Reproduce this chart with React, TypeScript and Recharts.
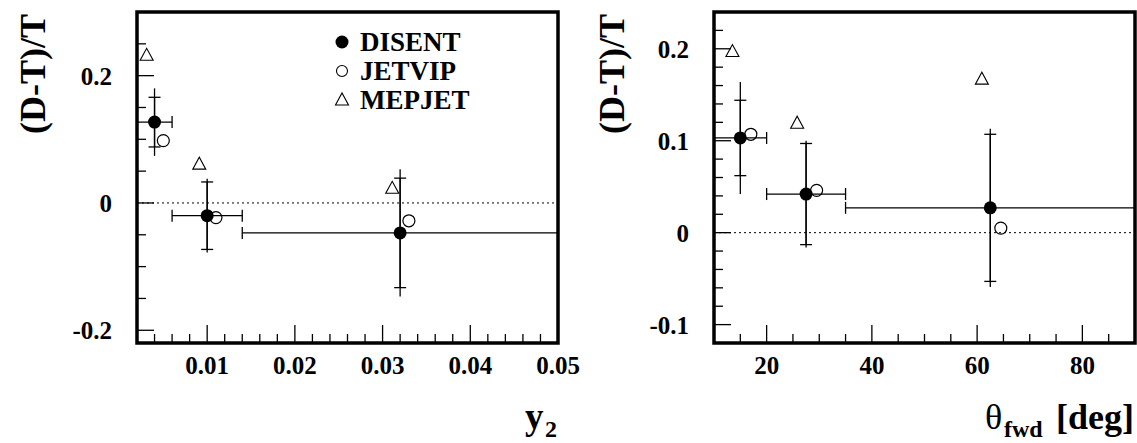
import React from 'react'
import {
  ScatterChart,
  Scatter,
  XAxis,
  YAxis,
  ErrorBar,
  ReferenceLine,
  ReferenceArea,
  Legend,
} from 'recharts'

const SERIF = '"Liberation Serif", "Times New Roman", Times, serif'

// ---- (D-T)/T vs y2 ----
const y2Centers = [0.004, 0.01, 0.032]
const y2HalfBins = [0.002, 0.004, 0.018]
const y2Disent = [0.127, -0.02, -0.047]
const y2DisentStat = [0.039, 0.053, 0.086]
const y2DisentTotal = [0.053, 0.058, 0.1]
const y2JetvipX = [0.005, 0.011, 0.033]
const y2Jetvip = [0.098, -0.023, -0.028]
const y2MepjetX = [0.0031, 0.0091, 0.0311]
const y2Mepjet = [0.232, 0.061, 0.023]
const y2XTicks = [
  0.004, 0.006, 0.008, 0.01, 0.012, 0.014, 0.016, 0.018, 0.02, 0.022, 0.024, 0.026,
  0.028, 0.03, 0.032, 0.034, 0.036, 0.038, 0.04, 0.042, 0.044, 0.046, 0.048, 0.05,
]
const y2XLabels = [0.01, 0.02, 0.03, 0.04, 0.05]
const y2YTicks = [-0.2, -0.15, -0.1, -0.05, 0, 0.05, 0.1, 0.15, 0.2, 0.25]
const y2YLabels = [-0.2, 0, 0.2]

// ---- (D-T)/T vs theta_fwd ----
const thCenters = [15, 27.5, 62.5]
const thHalfBins = [5, 7.5, 27.5]
const thDisent = [0.103, 0.042, 0.027]
const thDisentStat = [0.041, 0.055, 0.08]
const thDisentTotal = [0.061, 0.058, 0.086]
const thJetvipX = [17, 29.5, 64.5]
const thJetvip = [0.107, 0.046, 0.005]
const thMepjetX = [13.5, 25.8, 60.9]
const thMepjet = [0.197, 0.119, 0.167]
const thXTicks = [15, 20, 25, 30, 35, 40, 45, 50, 55, 60, 65, 70, 75, 80, 85]
const thXLabels = [20, 40, 60, 80]
const thYTicks = [-0.1, -0.08, -0.06, -0.04, -0.02, 0, 0.02, 0.04, 0.06, 0.08, 0.1, 0.12, 0.14, 0.16, 0.18, 0.2, 0.22]
const thYLabels = [-0.1, 0, 0.1, 0.2]

const seriesNames = ['DISENT', 'JETVIP', 'MEPJET']

const withErrors = (xs: number[], ys: number[], ex: number[], stat: number[], total: number[]) =>
  xs.map((x, i) => ({ x, y: ys[i], ex: ex[i], stat: stat[i], total: total[i] }))
const points = (xs: number[], ys: number[]) => xs.map((x, i) => ({ x, y: ys[i] }))

const isIn = (list: number[], v: number) => list.some((m) => Math.abs(m - v) < 1e-9)
const fmtY = (v: number) => (v === 0 ? '0' : v.toFixed(1))

// markers
const Disc = (p: any) => <circle cx={p.cx} cy={p.cy} r={6.5} fill="#000" />
const Ring = (p: any) => <circle cx={p.cx} cy={p.cy} r={6} fill="none" stroke="#000" strokeWidth={1.2} />
const Tri = (p: any) => (
  <path
    d={`M${p.cx - 6.5},${p.cy + 5} L${p.cx + 6.5},${p.cy + 5} L${p.cx},${p.cy - 7} Z`}
    fill="none"
    stroke="#000"
    strokeWidth={1.1}
  />
)

// inward tick marks, labels only on the major ones
function XTick({ x, y, payload, labels, format }: any) {
  const major = isIn(labels, payload.value)
  return (
    <g>
      <line x1={x} x2={x} y1={y} y2={y - (major ? 18 : 9)} stroke="#000" strokeWidth={1.3} />
      {major && (
        <text x={x} y={y + 31} textAnchor="middle" fontFamily={SERIF} fontWeight="bold" fontSize={25} fill="#000">
          {format(payload.value)}
        </text>
      )}
    </g>
  )
}

function YTick({ x, y, payload, labels }: any) {
  const major = isIn(labels, payload.value)
  return (
    <g>
      <line x1={x} x2={x + (major ? 17 : 9)} y1={y} y2={y} stroke="#000" strokeWidth={1.3} />
      {major && (
        <text x={x - 25} y={y + 9} textAnchor="end" fontFamily={SERIF} fontWeight="bold" fontSize={25} fill="#000">
          {fmtY(payload.value)}
        </text>
      )}
    </g>
  )
}

function LegendBox() {
  const marker = (name: string, cy: number) => {
    if (name === 'DISENT') return <circle cx={12} cy={cy} r={6.5} fill="#000" />
    if (name === 'JETVIP') return <circle cx={12} cy={cy} r={5.5} fill="none" stroke="#000" strokeWidth={1.1} />
    return <path d={`M5.5,${cy + 5} L18.5,${cy + 5} L12,${cy - 7} Z`} fill="none" stroke="#000" strokeWidth={1.1} />
  }
  return (
    <svg width={200} height={100}>
      {seriesNames.map((name, i) => {
        const cy = 16 + i * 29
        return (
          <g key={name}>
            {marker(name, cy)}
            <text x={30} y={cy + 9} fontFamily={SERIF} fontWeight="bold" fontSize={27} fill="#000">
              {name}
            </text>
          </g>
        )
      })}
    </svg>
  )
}

interface PanelProps {
  width: number
  left: number
  right: number
  xDomain: [number, number]
  yDomain: [number, number]
  xTicks: number[]
  xLabels: number[]
  xFormat: (v: number) => string
  yTicks: number[]
  yLabels: number[]
  disent: any[]
  jetvip: any[]
  mepjet: any[]
  xTitle: () => React.ReactNode
  yTitleX: number
  showLegend?: boolean
}

function Panel(p: PanelProps) {
  const yTitle = () => (
    <text
      x={p.yTitleX}
      y={74}
      transform={`rotate(-90 ${p.yTitleX} 74)`}
      textAnchor="middle"
      dominantBaseline="central"
      fontFamily={SERIF}
      fontWeight="bold"
      fontSize={36}
      fill="#000"
    >
      (D-T)/T
    </text>
  )
  // axes are 1px thick so that they still render; the plot frame starts at left + 1
  return (
    <ScatterChart width={p.width} height={443} margin={{ top: 12, right: p.right, bottom: 99, left: p.left - 1 }}>
      <XAxis
        type="number"
        dataKey="x"
        domain={p.xDomain}
        allowDataOverflow
        ticks={p.xTicks}
        interval={0}
        height={1}
        tickSize={0}
        tickMargin={0}
        axisLine={false}
        tickLine={false}
        tick={(t: any) => <XTick {...t} labels={p.xLabels} format={p.xFormat} />}
        label={p.xTitle}
      />
      <YAxis
        type="number"
        dataKey="y"
        domain={p.yDomain}
        allowDataOverflow
        ticks={p.yTicks}
        interval={0}
        width={1}
        tickSize={0}
        tickMargin={0}
        axisLine={false}
        tickLine={false}
        tick={(t: any) => <YTick {...t} labels={p.yLabels} />}
        label={yTitle}
      />
      <ReferenceLine y={0} stroke="#000" strokeWidth={1} strokeDasharray="2 3" />
      <Scatter name="DISENT" data={p.disent} shape={Disc} isAnimationActive={false}>
        <ErrorBar dataKey="ex" direction="x" width={6} stroke="#000" strokeWidth={1.3} isAnimationActive={false} />
        <ErrorBar dataKey="total" direction="y" width={0} stroke="#000" strokeWidth={1.3} isAnimationActive={false} />
        <ErrorBar dataKey="stat" direction="y" width={6} stroke="#000" strokeWidth={1.3} isAnimationActive={false} />
      </Scatter>
      <Scatter name="JETVIP" data={p.jetvip} shape={Ring} isAnimationActive={false} />
      <Scatter name="MEPJET" data={p.mepjet} shape={Tri} isAnimationActive={false} />
      <ReferenceArea
        x1={p.xDomain[0]}
        x2={p.xDomain[1]}
        y1={p.yDomain[0]}
        y2={p.yDomain[1]}
        fill="none"
        fillOpacity={0}
        stroke="#000"
        strokeWidth={3.5}
        ifOverflow="visible"
      />
      {p.showLegend && (
        <Legend
          layout="vertical"
          align="center"
          verticalAlign="middle"
          wrapperStyle={{ left: 330, top: 26, right: 'auto', bottom: 'auto', width: 200, height: 100 }}
          content={() => <LegendBox />}
        />
      )}
    </ScatterChart>
  )
}

const y2Title = () => (
  <text fontFamily={SERIF} fontWeight="bold" fill="#000">
    <tspan x={525} y={429} fontSize={37}>y</tspan>
    <tspan x={545} y={437} fontSize={24}>2</tspan>
  </text>
)

const thTitle = () => (
  <text fontFamily={SERIF} fill="#000">
    <tspan x={405} y={429} fontSize={36}>θ</tspan>
    <tspan x={424} y={437} fontSize={24} fontWeight="bold">fwd</tspan>
    <tspan x={476} y={429} fontSize={36} fontWeight="bold">[deg]</tspan>
  </text>
)

export default function App() {
  return (
    <div style={{ position: 'absolute', left: 0, top: 0, width: 1137, height: 443, display: 'flex', background: '#fff' }}>
      <Panel
        width={580}
        left={137}
        right={22}
        xDomain={[0.002, 0.05]}
        yDomain={[-0.22, 0.3]}
        xTicks={y2XTicks}
        xLabels={y2XLabels}
        xFormat={(v) => v.toFixed(2)}
        yTicks={y2YTicks}
        yLabels={y2YLabels}
        disent={withErrors(y2Centers, y2Disent, y2HalfBins, y2DisentStat, y2DisentTotal)}
        jetvip={points(y2JetvipX, y2Jetvip)}
        mepjet={points(y2MepjetX, y2Mepjet)}
        xTitle={y2Title}
        yTitleX={33}
        showLegend
      />
      <Panel
        width={557}
        left={134}
        right={2}
        xDomain={[10, 90]}
        yDomain={[-0.12, 0.24]}
        xTicks={thXTicks}
        xLabels={thXLabels}
        xFormat={(v) => String(v)}
        yTicks={thYTicks}
        yLabels={thYLabels}
        disent={withErrors(thCenters, thDisent, thHalfBins, thDisentStat, thDisentTotal)}
        jetvip={points(thJetvipX, thJetvip)}
        mepjet={points(thMepjetX, thMepjet)}
        xTitle={thTitle}
        yTitleX={32}
      />
    </div>
  )
}
